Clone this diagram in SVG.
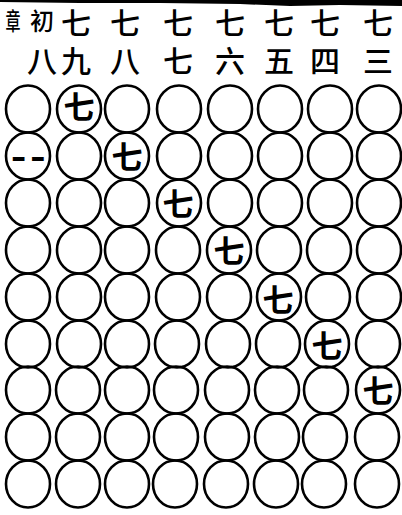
<svg xmlns="http://www.w3.org/2000/svg" width="402" height="515" viewBox="0 0 402 515">
<style>
.c{fill:none;stroke:#000;stroke-width:2.6}
.h{font-family:"Noto Sans CJK SC","Noto Sans CJK TC",sans-serif;font-size:30px;font-weight:500;fill:#000;writing-mode:vertical-rl;letter-spacing:8px}
.s{font-family:"Noto Sans CJK SC","Noto Sans CJK TC",sans-serif;font-weight:500;fill:#000;text-anchor:middle}
.q{font-family:"Noto Sans CJK SC","Noto Sans CJK TC",sans-serif;font-size:31px;font-weight:700;fill:#000;text-anchor:middle}
.d{font-family:"Liberation Sans",Arial,sans-serif;font-weight:bold;font-size:34px;fill:#000}
</style>
<rect width="402" height="515" fill="#fff"/>
<polygon id="topRule" points="0,0 402,0 402,6 340,5 290,6 240,4 160,3 80,3 0,2" fill="#000"/>
<g id="header">
  <g id="h0"><text class="s" transform="translate(13,30) scale(0.75,1.2)" font-size="20">章</text></g>
  <g id="h1"><text class="h" x="42" y="9"><tspan font-size="24" letter-spacing="13px">初</tspan><tspan>八</tspan></text></g>
  <g id="h2"><text class="h" x="76" y="8">七九</text></g>
  <g id="h3"><text class="h" x="125" y="8">七八</text></g>
  <g id="h4"><text class="h" x="178" y="8">七七</text></g>
  <g id="h5"><text class="h" x="230" y="8">七六</text></g>
  <g id="h6"><text class="h" x="279" y="8">七五</text></g>
  <g id="h7"><text class="h" x="325" y="8">七四</text></g>
  <g id="h8"><text class="h" x="378" y="8">七三</text></g>
</g>
<g id="grid">
  <g id="col1">
    <ellipse id="r1c1" class="c" cx="28" cy="109" rx="22" ry="23.5"/>
    <g id="r2c1"><ellipse class="c" cx="28" cy="156" rx="22" ry="23.5"/><text class="d" transform="translate(11,168) scale(1.35,1)" letter-spacing="3">--</text></g>
    <ellipse id="r3c1" class="c" cx="28" cy="203" rx="22" ry="23.5"/>
    <ellipse id="r4c1" class="c" cx="28" cy="250" rx="22" ry="23.5"/>
    <ellipse id="r5c1" class="c" cx="28" cy="297" rx="22" ry="23.5"/>
    <ellipse id="r6c1" class="c" cx="28" cy="344" rx="22" ry="23.5"/>
    <ellipse id="r7c1" class="c" cx="28" cy="390" rx="22" ry="23.5"/>
    <ellipse id="r8c1" class="c" cx="28" cy="437" rx="22" ry="23.5"/>
    <ellipse id="r9c1" class="c" cx="28" cy="484" rx="22" ry="23.5"/>
  </g>
  <g id="col2">
    <g id="r1c2"><ellipse class="c" cx="79" cy="109" rx="22" ry="23.5"/><text class="q" x="79" y="118">七</text></g>
    <ellipse id="r2c2" class="c" cx="79" cy="156" rx="22" ry="23.5"/>
    <ellipse id="r3c2" class="c" cx="79" cy="203" rx="22" ry="23.5"/>
    <ellipse id="r4c2" class="c" cx="79" cy="250" rx="22" ry="23.5"/>
    <ellipse id="r5c2" class="c" cx="79" cy="297" rx="22" ry="23.5"/>
    <ellipse id="r6c2" class="c" cx="79" cy="344" rx="22" ry="23.5"/>
    <ellipse id="r7c2" class="c" cx="78" cy="390" rx="22" ry="23.5"/>
    <ellipse id="r8c2" class="c" cx="78" cy="437" rx="22" ry="23.5"/>
    <ellipse id="r9c2" class="c" cx="78" cy="484" rx="22" ry="23.5"/>
  </g>
  <g id="col3">
    <ellipse id="r1c3" class="c" cx="127" cy="109" rx="22" ry="23.5"/>
    <g id="r2c3"><ellipse class="c" cx="127" cy="156" rx="22" ry="23.5"/><text class="q" x="127" y="168">七</text></g>
    <ellipse id="r3c3" class="c" cx="127" cy="203" rx="22" ry="23.5"/>
    <ellipse id="r4c3" class="c" cx="127" cy="250" rx="22" ry="23.5"/>
    <ellipse id="r5c3" class="c" cx="127" cy="297" rx="22" ry="23.5"/>
    <ellipse id="r6c3" class="c" cx="127" cy="344" rx="22" ry="23.5"/>
    <ellipse id="r7c3" class="c" cx="127" cy="390" rx="22" ry="23.5"/>
    <ellipse id="r8c3" class="c" cx="127" cy="437" rx="22" ry="23.5"/>
    <ellipse id="r9c3" class="c" cx="127" cy="484" rx="22" ry="23.5"/>
  </g>
  <g id="col4">
    <ellipse id="r1c4" class="c" cx="179" cy="109" rx="22" ry="23.5"/>
    <ellipse id="r2c4" class="c" cx="179" cy="156" rx="22" ry="23.5"/>
    <g id="r3c4"><ellipse class="c" cx="179" cy="203" rx="22" ry="23.5"/><text class="q" x="178" y="215">七</text></g>
    <ellipse id="r4c4" class="c" cx="178" cy="250" rx="22" ry="23.5"/>
    <ellipse id="r5c4" class="c" cx="178" cy="297" rx="22" ry="23.5"/>
    <ellipse id="r6c4" class="c" cx="177" cy="344" rx="22" ry="23.5"/>
    <ellipse id="r7c4" class="c" cx="176" cy="390" rx="22" ry="23.5"/>
    <ellipse id="r8c4" class="c" cx="176" cy="437" rx="22" ry="23.5"/>
    <ellipse id="r9c4" class="c" cx="175" cy="484" rx="22" ry="23.5"/>
  </g>
  <g id="col5">
    <ellipse id="r1c5" class="c" cx="230" cy="109" rx="22" ry="23.5"/>
    <ellipse id="r2c5" class="c" cx="230" cy="156" rx="22" ry="23.5"/>
    <ellipse id="r3c5" class="c" cx="230" cy="203" rx="22" ry="23.5"/>
    <g id="r4c5"><ellipse class="c" cx="229" cy="250" rx="22" ry="23.5"/><text class="q" x="229" y="262">七</text></g>
    <ellipse id="r5c5" class="c" cx="229" cy="297" rx="22" ry="23.5"/>
    <ellipse id="r6c5" class="c" cx="228" cy="344" rx="22" ry="23.5"/>
    <ellipse id="r7c5" class="c" cx="227" cy="390" rx="22" ry="23.5"/>
    <ellipse id="r8c5" class="c" cx="227" cy="437" rx="22" ry="23.5"/>
    <ellipse id="r9c5" class="c" cx="226" cy="484" rx="22" ry="23.5"/>
  </g>
  <g id="col6">
    <ellipse id="r1c6" class="c" cx="280" cy="109" rx="22" ry="23.5"/>
    <ellipse id="r2c6" class="c" cx="280" cy="156" rx="22" ry="23.5"/>
    <ellipse id="r3c6" class="c" cx="280" cy="203" rx="22" ry="23.5"/>
    <ellipse id="r4c6" class="c" cx="279" cy="250" rx="22" ry="23.5"/>
    <g id="r5c6"><ellipse class="c" cx="279" cy="297" rx="22" ry="23.5"/><text class="q" x="278" y="311">七</text></g>
    <ellipse id="r6c6" class="c" cx="278" cy="344" rx="22" ry="23.5"/>
    <ellipse id="r7c6" class="c" cx="277" cy="390" rx="22" ry="23.5"/>
    <ellipse id="r8c6" class="c" cx="277" cy="437" rx="22" ry="23.5"/>
    <ellipse id="r9c6" class="c" cx="276" cy="484" rx="22" ry="23.5"/>
  </g>
  <g id="col7">
    <ellipse id="r1c7" class="c" cx="330" cy="109" rx="22" ry="23.5"/>
    <ellipse id="r2c7" class="c" cx="330" cy="156" rx="22" ry="23.5"/>
    <ellipse id="r3c7" class="c" cx="330" cy="203" rx="22" ry="23.5"/>
    <ellipse id="r4c7" class="c" cx="329" cy="250" rx="22" ry="23.5"/>
    <ellipse id="r5c7" class="c" cx="328" cy="297" rx="22" ry="23.5"/>
    <g id="r6c7"><ellipse class="c" cx="327" cy="344" rx="22" ry="23.5"/><text class="q" x="327" y="357">七</text></g>
    <ellipse id="r7c7" class="c" cx="326" cy="390" rx="22" ry="23.5"/>
    <ellipse id="r8c7" class="c" cx="325" cy="437" rx="22" ry="23.5"/>
    <ellipse id="r9c7" class="c" cx="324" cy="484" rx="22" ry="23.5"/>
  </g>
  <g id="col8">
    <ellipse id="r1c8" class="c" cx="379" cy="109" rx="22" ry="23.5"/>
    <ellipse id="r2c8" class="c" cx="379" cy="156" rx="22" ry="23.5"/>
    <ellipse id="r3c8" class="c" cx="379" cy="203" rx="22" ry="23.5"/>
    <ellipse id="r4c8" class="c" cx="379" cy="250" rx="22" ry="23.5"/>
    <ellipse id="r5c8" class="c" cx="379" cy="297" rx="22" ry="23.5"/>
    <ellipse id="r6c8" class="c" cx="378" cy="344" rx="22" ry="23.5"/>
    <g id="r7c8"><ellipse class="c" cx="378" cy="390" rx="22" ry="23.5"/><text class="q" x="378" y="402">七</text></g>
    <ellipse id="r8c8" class="c" cx="377" cy="437" rx="22" ry="23.5"/>
    <ellipse id="r9c8" class="c" cx="377" cy="484" rx="22" ry="23.5"/>
  </g>
</g>
</svg>
